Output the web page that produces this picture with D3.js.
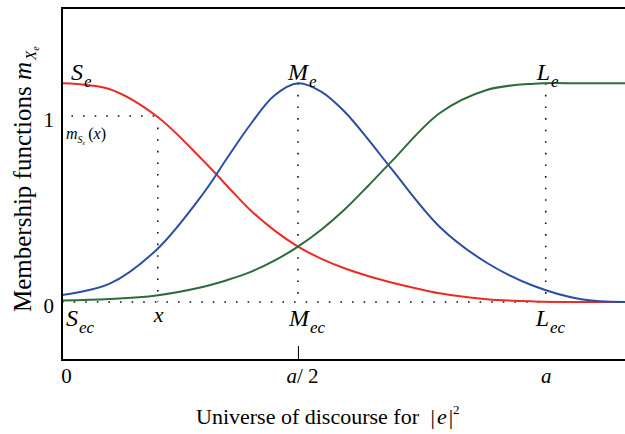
<!DOCTYPE html>
<html>
<head>
<meta charset="utf-8">
<script src="https://cdn.jsdelivr.net/npm/d3@7"></script>
<style>
  body { margin: 0; background: #fff; }
  text { font-family: 'Liberation Serif', 'Times New Roman', serif; fill: #000; }
</style>
</head>
<body>
<div id="chart"></div>
<script>
// universe of discourse, in units of a
const xs = [0, 0.1, 0.2, 0.3, 0.35, 0.4, 0.45, 0.5, 0.55, 0.6, 0.65, 0.7, 0.8, 0.9, 1.0, 1.1, 1.193]
const smallVals = [1.176, 1.145, 1.0, 0.758, 0.624, 0.492, 0.385, 0.298, 0.232, 0.18, 0.138, 0.104, 0.047, 0.015, 0.003, 0, 0]
const mediumVals = [0.038, 0.097, 0.28, 0.586, 0.774, 0.957, 1.11, 1.176, 1.13, 1.02, 0.87, 0.71, 0.405, 0.211, 0.086, 0.015, 0]
const largeVals = [0.008, 0.016, 0.035, 0.082, 0.118, 0.162, 0.222, 0.298, 0.39, 0.5, 0.628, 0.76, 1.015, 1.14, 1.174, 1.176, 1.176]

const peak = 1.176
const xSample = 0.203
const xCentre = 0.5
const xLarge = 1.025

const tickValues = [0, 0.5, 1.025]
const yTickValues = [0, 1]

const width = 625
const height = 434

const svg = d3
  .select('#chart')
  .append('svg')
  .attr('width', width)
  .attr('height', height)

const xScale = d3.scaleLinear().domain([0, 1.193]).range([62, 625])
const yScale = d3.scaleLinear().domain([0, 1]).range([302, 116])

const frameTop = 8
const frameBottom = 360

// dotted guides
const dotted = [
  [[0.02, 1], [xSample, 1]],
  [[xSample, 1], [xSample, 0]],
  [[xCentre, peak], [xCentre, 0]],
  [[xLarge, peak], [xLarge, 0]],
  [[0, 0], [1.193, 0]]
]

const guideLine = d3
  .line()
  .x(d => xScale(d[0]))
  .y(d => yScale(d[1]))

svg
  .selectAll('.guide')
  .data(dotted)
  .enter()
  .append('path')
  .attr('class', 'guide')
  .attr('d', guideLine)
  .attr('fill', 'none')
  .attr('stroke', '#111')
  .attr('stroke-width', 1.6)
  .attr('stroke-dasharray', '1.6 10')

// curves
const series = [
  { name: 'small', values: smallVals, color: '#ee2a24' },
  { name: 'medium', values: mediumVals, color: '#2a4ea6' },
  { name: 'large', values: largeVals, color: '#2e6b3b' }
]

const line = d3
  .line()
  .x((d, i) => xScale(xs[i]))
  .y(d => yScale(d))
  .curve(d3.curveCatmullRom.alpha(0.5))

svg
  .selectAll('.curve')
  .data(series)
  .enter()
  .append('path')
  .attr('class', 'curve')
  .attr('d', d => line(d.values))
  .attr('fill', 'none')
  .attr('stroke', d => d.color)
  .attr('stroke-width', 2)

// frame (no right side)
svg
  .append('path')
  .attr('d', `M625,${frameTop}H${xScale(0)}V${frameBottom}H625`)
  .attr('fill', 'none')
  .attr('stroke', '#000')
  .attr('stroke-width', 2)

// x axis
const xAxis = d3
  .axisBottom(xScale)
  .tickValues(tickValues)
  .tickSize(-14)
  .tickPadding(8)
  .tickFormat(() => '')

const xg = svg
  .append('g')
  .attr('transform', `translate(0,${frameBottom})`)
  .call(xAxis)
xg.select('.domain').remove()
xg.selectAll('.tick line')
  .filter(d => d !== 0.5)
  .remove()
xg.selectAll('.tick line').attr('stroke', '#000').attr('stroke-width', 1)

const tickText = xg.selectAll('.tick text')
  .attr('font-size', 21)
  .attr('font-family', 'Liberation Serif')
tickText.each(function(d) {
  const t = d3.select(this)
  if (d === 0) {
    t.attr('dx', 4).append('tspan').text('0')
  } else if (d === 0.5) {
    t.attr('dx', 4)
    t.append('tspan').attr('font-style', 'italic').text('a')
    t.append('tspan').text('/ 2')
  } else {
    t.append('tspan').attr('font-style', 'italic').text('a')
  }
})

// y axis labels
const yAxis = d3
  .axisLeft(yScale)
  .tickValues(yTickValues)
  .tickFormat(d3.format('d'))
  .tickSize(0)
  .tickPadding(8)
const yg = svg
  .append('g')
  .attr('transform', `translate(${xScale(0)},0)`)
  .call(yAxis)
yg.select('.domain').remove()
yg.selectAll('.tick text')
  .attr('font-size', 21)
  .attr('font-family', 'Liberation Serif')
  .attr('dy', '0.5em')

// curve labels: [main letter, subscript, x, y, dx, dy]
const labels = [
  ['S', 'e', 0, peak, 9, -3],
  ['M', 'e', xCentre, peak, -10, -3],
  ['L', 'e', xLarge, peak, -9, -3],
  ['S', 'ec', 0, 0, 4, 24],
  ['M', 'ec', xCentre, 0, -9, 24],
  ['L', 'ec', xLarge, 0, -10, 24]
]

labels.forEach(l => {
  const t = svg
    .append('text')
    .attr('x', xScale(l[2]) + l[4])
    .attr('y', yScale(l[3]) + l[5])
    .attr('font-size', 24)
    .attr('font-style', 'italic')
  t.append('tspan').text(l[0])
  t.append('tspan')
    .attr('dy', 7)
    .attr('dx', 1)
    .attr('font-size', 17)
    .text(l[1])
})

svg
  .append('text')
  .attr('x', xScale(xSample) - 4)
  .attr('y', yScale(0) + 20)
  .attr('font-size', 22)
  .attr('font-style', 'italic')
  .text('x')

// m_Se(x)
const ms = svg
  .append('text')
  .attr('x', xScale(0) + 4)
  .attr('y', yScale(1) + 23)
  .attr('font-size', 16)
ms.append('tspan').attr('font-style', 'italic').text('m')
ms.append('tspan').attr('font-style', 'italic').attr('font-size', 10).attr('dy', 4).text('S')
ms.append('tspan').attr('font-style', 'italic').attr('font-size', 6).attr('dy', 2).text('e')
ms.append('tspan').attr('dy', -6).attr('dx', 3).text('(')
ms.append('tspan').attr('font-style', 'italic').text('x')
ms.append('tspan').text(')')

// x title
const xt = svg
  .append('text')
  .attr('x', 196)
  .attr('y', 424)
  .attr('font-size', 22)
xt.append('tspan').text('Universe of discourse for ')
xt.append('tspan').attr('dx', 6).text('|')
xt.append('tspan').attr('font-style', 'italic').attr('dx', 2).text('e')
xt.append('tspan').attr('dx', 2).text('|')
xt.append('tspan').attr('font-size', 13).attr('dy', -10).text('2')

// y title
const yt = svg
  .append('text')
  .attr('transform', 'translate(31,312) rotate(-90)')
  .attr('font-size', 25)
yt.append('tspan').text('Membership functions ')
yt.append('tspan').attr('font-style', 'italic').text('m')
yt.append('tspan').attr('font-style', 'italic').attr('font-size', 15).attr('dy', 5).attr('dx', 2).text('X')
yt.append('tspan').attr('font-style', 'italic').attr('font-size', 10).attr('dy', 3).text('e')
</script>
</body>
</html>
